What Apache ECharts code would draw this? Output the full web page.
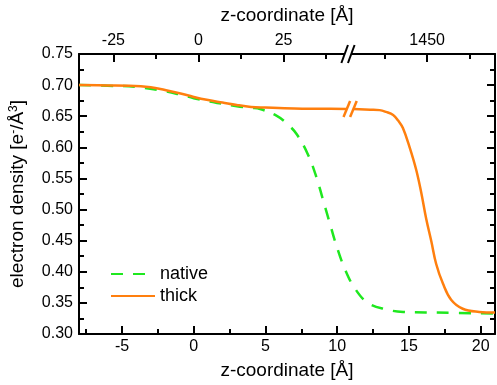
<!DOCTYPE html>
<html><head><meta charset="utf-8">
<script src="https://cdn.jsdelivr.net/npm/echarts@6/dist/echarts.min.js"></script>
<style>html,body{margin:0;padding:0;background:#fff}#c{width:497px;height:385px}</style>
</head><body><div id="c"></div>
<script>
// ---- data ----
const nativeZ = [-8, -6, -4, -2, -1, 0, 1, 2, 3, 4, 4.63, 5.79, 6.5, 7.18, 7.99, 8.57, 9.03, 9.49, 9.96, 10.53, 11.23, 12.15, 13.43, 14.6, 16.9, 21];
const nativeDensity = [0.700, 0.699, 0.697, 0.690, 0.685, 0.679, 0.674, 0.670, 0.666, 0.6635, 0.6615, 0.6505, 0.638, 0.621, 0.587, 0.5505, 0.514, 0.4777, 0.441, 0.4047, 0.3734, 0.350, 0.3395, 0.3355, 0.3344, 0.333];
const thickZ = [-8, -6, -4.5, -3, -2, -1, 0, 1, 2, 3, 4, 5, 7, 9, 10.65, 10.9, 11.15, 12.3, 12.96, 13.4, 13.9, 14.25, 14.58, 15.05, 15.51, 15.86, 16.2, 16.56, 16.9, 17.37, 17.94, 18.75, 19.9, 21];
const thickDensity = [0.700, 0.6995, 0.699, 0.6965, 0.692, 0.687, 0.681, 0.676, 0.672, 0.668, 0.665, 0.664, 0.6625, 0.662, 0.6615, null, 0.6615, 0.6605, 0.6598, 0.657, 0.652, 0.643, 0.631, 0.600, 0.5636, 0.527, 0.4855, 0.449, 0.4125, 0.381, 0.355, 0.3406, 0.3355, 0.3344];
const bottomTicks = [-5, 0, 5, 10, 15, 20];
const bottomMinorTicks = [-7.5, -2.5, 2.5, 7.5, 12.5, 17.5];
const topTicks = [-25, 0, 25, 1450];
const topMinorTicks = [-12.5, 12.5, 37.5, 1437.5, 1462.5];
const topBreakZ = 10.75;
const curveBreak = [10.9, 0.6615];

// top (broken) axis -> bottom z coordinate
function topToZ(t) { return t < 1000 ? 0.33 + t * 0.2373 : 16.27 + (t - 1450) * 0.2373; }
const topPos = topTicks.map(topToZ);
const topMinorPos = topMinorTicks.map(topToZ);

const FONT = "'Liberation Sans', Arial, sans-serif";
const AX = { onZero: false, lineStyle: { color: '#000', width: 2 } };
const chart = echarts.init(document.getElementById('c'));
const pair = (xs, ys) => xs.map((x, i) => [x, ys[i]]);

const xBase = { type: 'value', min: -8, max: 21, splitLine: { show: false } };
chart.setOption({
  animation: false,
  grid: { left: 79, right: 2, top: 54, bottom: 43, containLabel: false },
  legend: {
    data: ['native', 'thick'], orient: 'vertical', left: 105, top: 260,
    itemWidth: 44, itemHeight: 14, itemGap: 4,
    itemStyle: { opacity: 0 },
    textStyle: { fontSize: 18, fontFamily: FONT, color: '#000' }
  },
  xAxis: [
    Object.assign({}, xBase, {
      position: 'bottom', name: 'z-coordinate [Å]', nameLocation: 'middle', nameGap: 27,
      nameTextStyle: { fontSize: 19, fontFamily: FONT, color: '#000' },
      axisLine: AX,
      axisTick: { inside: true, length: 8, lineStyle: { width: 2, color: '#000' }, customValues: bottomTicks },
      axisLabel: { customValues: bottomTicks, fontSize: 16, fontFamily: FONT, color: '#000', margin: 5 }
    }),
    Object.assign({}, xBase, {
      position: 'bottom', axisLine: { show: false, onZero: false }, axisLabel: { show: false },
      axisTick: { inside: true, length: 5, lineStyle: { width: 2, color: '#000' }, customValues: bottomMinorTicks }
    }),
    Object.assign({}, xBase, {
      position: 'top', name: 'z-coordinate [Å]', nameLocation: 'middle', nameGap: 29,
      nameTextStyle: { fontSize: 19, fontFamily: FONT, color: '#000' },
      axisLine: AX,
      axisTick: { inside: true, length: 8, lineStyle: { width: 2, color: '#000' }, customValues: topPos },
      axisLabel: {
        customValues: topPos, fontSize: 16, fontFamily: FONT, color: '#000', margin: 5,
        formatter: v => {
          let best = 0;
          topPos.forEach((p, i) => { if (Math.abs(p - v) < Math.abs(topPos[best] - v)) best = i; });
          return String(topTicks[best]);
        }
      }
    }),
    Object.assign({}, xBase, {
      position: 'top', axisLine: { show: false, onZero: false }, axisLabel: { show: false },
      axisTick: { inside: true, length: 5, lineStyle: { width: 2, color: '#000' }, customValues: topMinorPos }
    })
  ],
  yAxis: [
    {
      type: 'value', min: 0.30, max: 0.75, interval: 0.05, position: 'left',
      name: 'electron density [e{s|-}/Å{s|3}]', nameLocation: 'middle', nameGap: 52, nameRotate: 90,
      nameTextStyle: { fontSize: 19, fontFamily: FONT, color: '#000',
        rich: { s: { fontSize: 12, fontFamily: FONT, color: '#000', verticalAlign: 'top', lineHeight: 12 } } },
      splitLine: { show: false }, axisLine: AX,
      axisTick: { inside: true, length: 8, lineStyle: { width: 2, color: '#000' } },
      minorTick: { show: true, splitNumber: 2, length: 5, lineStyle: { width: 2, color: '#000' } },
      axisLabel: { fontSize: 16, fontFamily: FONT, color: '#000', margin: 6, formatter: v => v.toFixed(2) }
    },
    {
      type: 'value', min: 0.30, max: 0.75, interval: 0.05, position: 'right',
      splitLine: { show: false }, axisLine: AX, axisLabel: { show: false },
      axisTick: { inside: true, length: 8, lineStyle: { width: 2, color: '#000' } },
      minorTick: { show: true, splitNumber: 2, length: 5, lineStyle: { width: 2, color: '#000' } }
    }
  ],
  series: [
    {
      name: 'native', type: 'line', xAxisIndex: 0, yAxisIndex: 0, data: pair(nativeZ, nativeDensity),
      symbol: 'none', smooth: 0.4, color: '#1fe81f',
      lineStyle: { color: '#1fe81f', width: 2.5, type: [12, 10] }
    },
    {
      name: 'thick', type: 'line', xAxisIndex: 0, yAxisIndex: 0, data: pair(thickZ, thickDensity),
      symbol: 'none', smooth: 0.4, connectNulls: false, color: '#ff7f0e',
      lineStyle: { color: '#ff7f0e', width: 2.5 }
    }
  ]
});

// break marks
function addBreaks() {
  const tb = chart.convertToPixel({ xAxisIndex: 0, yAxisIndex: 0 }, [topBreakZ, 0.75]);
  const cb = chart.convertToPixel({ xAxisIndex: 0, yAxisIndex: 0 }, curveBreak);
  const slash = (cx, cy, dx, h, color, w) => ({
    type: 'line', shape: { x1: cx + dx - 3.3, y1: cy + h / 2, x2: cx + dx + 3.3, y2: cy - h / 2 },
    style: { stroke: color, lineWidth: w }, z: 100
  });
  chart.setOption({
    graphic: [
      { type: 'rect', shape: { x: tb[0] - 3.3, y: tb[1] - 2, width: 6.6, height: 4 }, style: { fill: '#fff' }, z: 99 },
      slash(tb[0], tb[1], -3.3, 18, '#000', 2),
      slash(tb[0], tb[1], 3.3, 18, '#000', 2),
      slash(cb[0], cb[1], -3.3, 16, '#ff7f0e', 2.5),
      slash(cb[0], cb[1], 3.3, 16, '#ff7f0e', 2.5)
    ]
  });
}
addBreaks();
</script>
</body></html>
